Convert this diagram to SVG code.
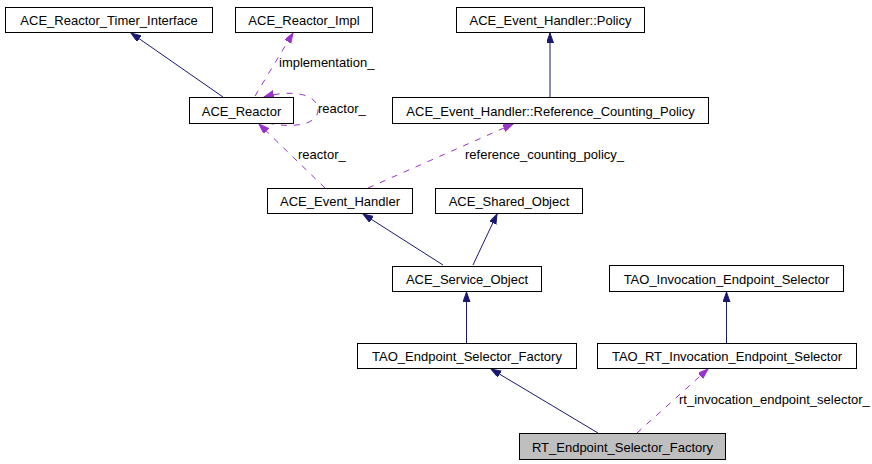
<svg xmlns="http://www.w3.org/2000/svg" width="872" height="464" viewBox="0 0 872 464">
<style>
text{font-family:"Liberation Sans",Arial,sans-serif;font-size:13px;fill:#000}
.n rect{fill:#fff;stroke:#000;stroke-width:1}
.n text{text-anchor:middle}
.inh{stroke:#191970;fill:none;stroke-width:1}
.use{stroke:#9a32cd;fill:none;stroke-width:1;stroke-dasharray:6,7}
</style>
<defs>
<marker id="ai" markerUnits="userSpaceOnUse" markerWidth="11" markerHeight="8" refX="10" refY="3.5" orient="auto"><path d="M0,0 L10,3.5 L0,7 z" fill="#191970" stroke="#191970"/></marker>
<marker id="au" markerUnits="userSpaceOnUse" markerWidth="11" markerHeight="8" refX="10" refY="3.5" orient="auto"><path d="M0,0 L10,3.5 L0,7 z" fill="#9a32cd" stroke="#9a32cd"/></marker>
</defs>
<rect width="872" height="464" fill="#fff"/>
<g id="connectors">
<line class="inh" x1="223" y1="97" x2="131" y2="33" marker-end="url(#ai)"/>
<line class="use" x1="255" y1="96" x2="293" y2="33" marker-end="url(#au)"/>
<path class="use" d="M268,123 C290,128 318,126 318,110 C318,94 292,89 264,97" marker-end="url(#au)"/>
<line class="use" x1="325" y1="188" x2="259" y2="124" marker-end="url(#au)"/>
<line class="use" x1="368" y1="188" x2="513" y2="124" marker-end="url(#au)"/>
<line class="inh" x1="550" y1="97" x2="550" y2="33" marker-end="url(#ai)"/>
<line class="inh" x1="443" y1="265" x2="363" y2="214" marker-end="url(#ai)"/>
<line class="inh" x1="473" y1="265" x2="497" y2="214" marker-end="url(#ai)"/>
<line class="inh" x1="466.5" y1="343" x2="466.5" y2="292" marker-end="url(#ai)"/>
<line class="inh" x1="726.5" y1="343" x2="726.5" y2="292" marker-end="url(#ai)"/>
<line class="inh" x1="598" y1="433" x2="491" y2="369" marker-end="url(#ai)"/>
<line class="use" x1="637" y1="433" x2="708" y2="369" marker-end="url(#au)"/>
<text x="279" y="67">implementation_</text>
<text x="318" y="113">reactor_</text>
<text x="298" y="159">reactor_</text>
<text x="465" y="159">reference_counting_policy_</text>
<text x="679" y="404">rt_invocation_endpoint_selector_</text>
</g>
<g id="ACE_Reactor_Timer_Interface" class="n"><rect x="5.5" y="7.5" width="207" height="25"/><text x="109" y="25">ACE_Reactor_Timer_Interface</text></g>
<g id="ACE_Reactor_Impl" class="n"><rect x="235.5" y="7.5" width="137" height="25"/><text x="304" y="25">ACE_Reactor_Impl</text></g>
<g id="ACE_Event_Handler_Policy" class="n"><rect x="456.5" y="7.5" width="188" height="25"/><text x="550.5" y="25">ACE_Event_Handler::Policy</text></g>
<g id="ACE_Reactor" class="n"><rect x="189.5" y="97.5" width="104" height="26"/><text x="241.5" y="115.5">ACE_Reactor</text></g>
<g id="ACE_Event_Handler_Reference_Counting_Policy" class="n"><rect x="392.5" y="97.5" width="316" height="26"/><text x="550.5" y="115.5">ACE_Event_Handler::Reference_Counting_Policy</text></g>
<g id="ACE_Event_Handler" class="n"><rect x="267.5" y="188.5" width="145" height="25"/><text x="340" y="206">ACE_Event_Handler</text></g>
<g id="ACE_Shared_Object" class="n"><rect x="435.5" y="188.5" width="147" height="25"/><text x="509" y="206">ACE_Shared_Object</text></g>
<g id="ACE_Service_Object" class="n"><rect x="392.5" y="266.5" width="149" height="25"/><text x="467" y="284">ACE_Service_Object</text></g>
<g id="TAO_Invocation_Endpoint_Selector" class="n"><rect x="609.5" y="265.5" width="234" height="26"/><text x="726.5" y="283.5">TAO_Invocation_Endpoint_Selector</text></g>
<g id="TAO_Endpoint_Selector_Factory" class="n"><rect x="357.5" y="343.5" width="219" height="25"/><text x="467" y="361">TAO_Endpoint_Selector_Factory</text></g>
<g id="TAO_RT_Invocation_Endpoint_Selector" class="n"><rect x="597.5" y="343.5" width="259" height="25"/><text x="727" y="361">TAO_RT_Invocation_Endpoint_Selector</text></g>
<g id="RT_Endpoint_Selector_Factory" class="n"><rect x="519.5" y="433.5" width="206" height="26" style="fill:#bfbfbf"/><text x="622.5" y="451.5">RT_Endpoint_Selector_Factory</text></g>
</svg>
